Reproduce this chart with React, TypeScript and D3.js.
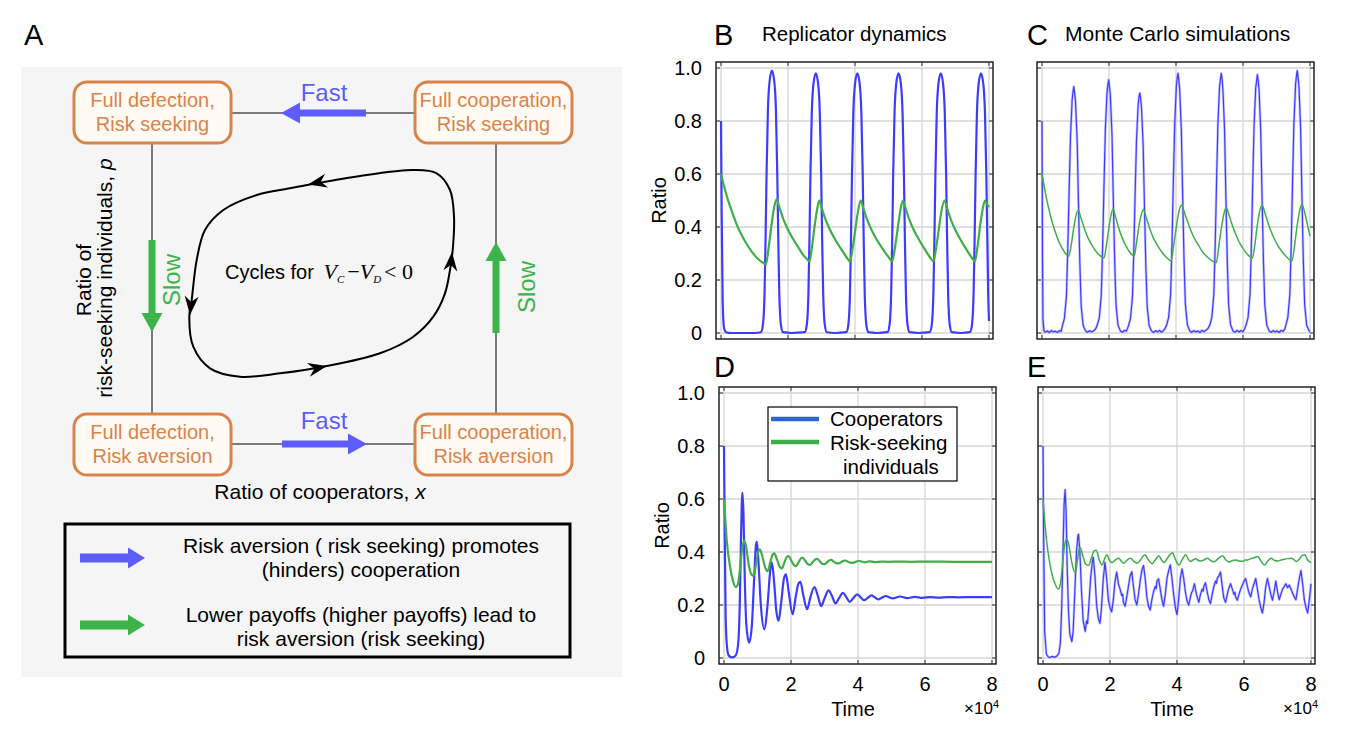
import * as d3 from "d3";

type Pt = [number, number];

// axis ticks (time in units of 10^4)
const timeTicks = [0, 2, 4, 6, 8];
const ratioTicks = [0, 0.2, 0.4, 0.6, 0.8, 1.0];
const ratioTickLabels = ["0", "0.2", "0.4", "0.6", "0.8", "1.0"];
const legendNames = ["Cooperators", "Risk-seeking", "individuals"];

// B: replicator dynamics, cycles
const coopB: Pt[] = [
  [0, 0.8], [0.02, 0.45], [0.05, 0.12], [0.09, 0.02], [0.15, 0.003], [0.3, 0], [1.0, 0],
  [1.19, 0.003], [1.25, 0.03], [1.3, 0.15], [1.33, 0.35], [1.36, 0.6], [1.4, 0.84], [1.45, 0.95], [1.52, 0.99],
  [1.59, 0.95], [1.64, 0.84], [1.68, 0.6], [1.71, 0.35], [1.74, 0.15], [1.79, 0.03], [1.85, 0.003], [2.1, 0],
  [2.5, 0.003], [2.56, 0.03], [2.61, 0.15], [2.64, 0.35], [2.67, 0.6], [2.71, 0.83], [2.76, 0.94], [2.83, 0.98],
  [2.9, 0.94], [2.95, 0.83], [2.99, 0.6], [3.02, 0.35], [3.05, 0.15], [3.1, 0.03], [3.16, 0.003], [3.4, 0],
  [3.74, 0.003], [3.8, 0.03], [3.85, 0.15], [3.88, 0.35], [3.91, 0.6], [3.95, 0.83], [4.0, 0.94], [4.07, 0.98],
  [4.14, 0.94], [4.19, 0.83], [4.23, 0.6], [4.26, 0.35], [4.29, 0.15], [4.34, 0.03], [4.4, 0.003], [4.65, 0],
  [4.97, 0.003], [5.03, 0.03], [5.08, 0.15], [5.11, 0.35], [5.14, 0.6], [5.18, 0.83], [5.23, 0.94], [5.3, 0.98],
  [5.37, 0.94], [5.42, 0.83], [5.46, 0.6], [5.49, 0.35], [5.52, 0.15], [5.57, 0.03], [5.63, 0.003], [5.9, 0],
  [6.23, 0.003], [6.29, 0.03], [6.34, 0.15], [6.37, 0.35], [6.4, 0.6], [6.44, 0.83], [6.49, 0.94], [6.56, 0.98],
  [6.63, 0.94], [6.68, 0.83], [6.72, 0.6], [6.75, 0.35], [6.78, 0.15], [6.83, 0.03], [6.89, 0.003], [7.15, 0],
  [7.43, 0.003], [7.49, 0.03], [7.54, 0.15], [7.57, 0.35], [7.6, 0.6], [7.64, 0.83], [7.69, 0.94], [7.76, 0.98],
  [7.83, 0.94], [7.88, 0.83], [7.92, 0.6], [7.95, 0.35], [7.975, 0.15], [8.0, 0.045],
];
const riskB: Pt[] = [
  [0, 0.6], [0.1, 0.55], [0.2, 0.505], [0.35, 0.45], [0.5, 0.4], [0.7, 0.35], [0.9, 0.31], [1.1, 0.28], [1.25, 0.265], [1.34, 0.258],
  [1.42, 0.32], [1.5, 0.4], [1.58, 0.47], [1.66, 0.505],
  [1.74, 0.475], [1.86, 0.43], [2.0, 0.39], [2.15, 0.355], [2.3, 0.325], [2.45, 0.295], [2.56, 0.28], [2.64, 0.27],
  [2.71, 0.32], [2.78, 0.39], [2.86, 0.46], [2.93, 0.5],
  [3.01, 0.47], [3.13, 0.425], [3.27, 0.385], [3.42, 0.35], [3.57, 0.32], [3.7, 0.295], [3.78, 0.28], [3.85, 0.27],
  [3.93, 0.32], [4.01, 0.39], [4.09, 0.46], [4.17, 0.5],
  [4.25, 0.47], [4.37, 0.425], [4.51, 0.385], [4.66, 0.35], [4.81, 0.32], [4.95, 0.295], [5.04, 0.28], [5.11, 0.27],
  [5.19, 0.32], [5.27, 0.39], [5.35, 0.46], [5.43, 0.5],
  [5.51, 0.47], [5.63, 0.425], [5.77, 0.385], [5.92, 0.35], [6.06, 0.32], [6.19, 0.295], [6.27, 0.28], [6.34, 0.27],
  [6.42, 0.32], [6.5, 0.39], [6.58, 0.46], [6.67, 0.5],
  [6.75, 0.47], [6.87, 0.425], [7.01, 0.385], [7.16, 0.35], [7.3, 0.32], [7.43, 0.295], [7.51, 0.28], [7.58, 0.27],
  [7.65, 0.32], [7.72, 0.39], [7.8, 0.46], [7.88, 0.5], [7.95, 0.485], [8.0, 0.475],
];

// C: Monte Carlo, cycles
const coopC: Pt[] = [
  [0, 0.8], [0.015, 0.3], [0.03, 0.05], [0.06, 0.008], [0.1, 0.003], [0.16, 0.008], [0.22, 0.002], [0.28, 0.009],
  [0.34, 0.004], [0.4, 0.007], [0.46, 0.002], [0.52, 0.009], [0.57, 0.006],
  [0.61, 0.028], [0.67, 0.056], [0.73, 0.14], [0.77, 0.32], [0.81, 0.54], [0.85, 0.74], [0.9, 0.88], [0.93, 0.915], [0.95, 0.93],
  [0.97, 0.91], [1.0, 0.875], [1.05, 0.725], [1.09, 0.48], [1.13, 0.26], [1.17, 0.1], [1.23, 0.028], [1.3, 0.008],
  [1.36, 0.003], [1.42, 0.009], [1.48, 0.004], [1.54, 0.008], [1.6, 0.015],
  [1.65, 0.03], [1.71, 0.057], [1.77, 0.143], [1.81, 0.325], [1.85, 0.554], [1.89, 0.764], [1.94, 0.907], [1.97, 0.94], [1.99, 0.955],
  [2.01, 0.935], [2.04, 0.898], [2.09, 0.745], [2.13, 0.497], [2.17, 0.267], [2.21, 0.105], [2.27, 0.029], [2.34, 0.008],
  [2.4, 0.003], [2.46, 0.01], [2.52, 0.007],
  [2.58, 0.027], [2.64, 0.054], [2.7, 0.136], [2.74, 0.308], [2.78, 0.525], [2.82, 0.724], [2.87, 0.86], [2.9, 0.895], [2.92, 0.905],
  [2.94, 0.89], [2.97, 0.85], [3.02, 0.706], [3.06, 0.47], [3.1, 0.253], [3.14, 0.1], [3.2, 0.027], [3.27, 0.008],
  [3.33, 0.002], [3.39, 0.009], [3.45, 0.004], [3.51, 0.01], [3.57, 0.003], [3.62, 0.009], [3.67, 0.016],
  [3.72, 0.03], [3.78, 0.059], [3.84, 0.147], [3.88, 0.333], [3.92, 0.568], [3.96, 0.784], [4.01, 0.93], [4.04, 0.965], [4.06, 0.98],
  [4.08, 0.96], [4.11, 0.92], [4.16, 0.764], [4.2, 0.51], [4.24, 0.274], [4.28, 0.108], [4.34, 0.03], [4.41, 0.008],
  [4.47, 0.003], [4.53, 0.009], [4.59, 0.004], [4.65, 0.008], [4.71, 0.002], [4.77, 0.01], [4.83, 0.005], [4.89, 0.01], [4.95, 0.016],
  [5.01, 0.03], [5.07, 0.059], [5.13, 0.147], [5.17, 0.333], [5.21, 0.568], [5.25, 0.784], [5.3, 0.93], [5.33, 0.96], [5.35, 0.98],
  [5.37, 0.965], [5.4, 0.92], [5.45, 0.764], [5.49, 0.51], [5.53, 0.274], [5.57, 0.108], [5.63, 0.03], [5.7, 0.008],
  [5.76, 0.003], [5.82, 0.01], [5.88, 0.004], [5.94, 0.009], [6.0, 0.005], [6.05, 0.016],
  [6.09, 0.03], [6.15, 0.058], [6.21, 0.146], [6.25, 0.331], [6.29, 0.565], [6.33, 0.78], [6.38, 0.926], [6.41, 0.955], [6.43, 0.975],
  [6.45, 0.955], [6.48, 0.917], [6.53, 0.76], [6.57, 0.507], [6.61, 0.273], [6.65, 0.107], [6.71, 0.03], [6.78, 0.008],
  [6.84, 0.003], [6.9, 0.009], [6.96, 0.004], [7.02, 0.008], [7.08, 0.002], [7.14, 0.01], [7.2, 0.006], [7.25, 0.016],
  [7.28, 0.03], [7.34, 0.06], [7.4, 0.149], [7.44, 0.337], [7.48, 0.574], [7.52, 0.792], [7.57, 0.94], [7.6, 0.975], [7.62, 0.99],
  [7.64, 0.97], [7.67, 0.93], [7.72, 0.772], [7.76, 0.515], [7.8, 0.277], [7.84, 0.109], [7.9, 0.03], [7.97, 0.008], [8.0, 0.005],
];
const riskC: Pt[] = [
  [0, 0.6], [0.1, 0.53], [0.2, 0.47], [0.3, 0.42], [0.4, 0.38], [0.5, 0.345], [0.6, 0.32], [0.7, 0.3], [0.8, 0.29],
  [0.87, 0.33], [0.94, 0.39], [1.01, 0.44], [1.08, 0.464],
  [1.15, 0.44], [1.25, 0.4], [1.37, 0.36], [1.5, 0.33], [1.63, 0.305], [1.75, 0.29], [1.85, 0.283],
  [1.92, 0.33], [1.99, 0.39], [2.06, 0.445], [2.12, 0.468],
  [2.19, 0.44], [2.28, 0.4], [2.39, 0.36], [2.5, 0.33], [2.62, 0.305], [2.75, 0.29],
  [2.82, 0.34], [2.89, 0.4], [2.96, 0.445], [3.03, 0.466],
  [3.1, 0.44], [3.2, 0.4], [3.32, 0.36], [3.45, 0.33], [3.58, 0.305], [3.72, 0.285], [3.85, 0.272],
  [3.93, 0.33], [4.01, 0.4], [4.09, 0.46], [4.17, 0.483],
  [4.25, 0.455], [4.36, 0.415], [4.5, 0.37], [4.65, 0.335], [4.8, 0.305], [4.95, 0.285], [5.08, 0.272], [5.2, 0.265],
  [5.28, 0.33], [5.36, 0.4], [5.43, 0.45], [5.5, 0.474],
  [5.57, 0.45], [5.67, 0.41], [5.79, 0.37], [5.92, 0.335], [6.05, 0.31], [6.17, 0.292], [6.28, 0.283],
  [6.35, 0.33], [6.42, 0.4], [6.5, 0.46], [6.57, 0.483],
  [6.65, 0.455], [6.76, 0.41], [6.9, 0.365], [7.04, 0.33], [7.18, 0.305], [7.32, 0.285], [7.46, 0.272],
  [7.54, 0.33], [7.61, 0.4], [7.69, 0.46], [7.76, 0.486], [7.84, 0.455], [7.92, 0.41], [8.0, 0.366],
];

// D: replicator dynamics, damped
const coopD: Pt[] = [
  [0, 0.8], [0.02, 0.5], [0.05, 0.15], [0.1, 0.03], [0.15, 0.008], [0.25, 0.002], [0.35, 0.01], [0.42, 0.05],
  [0.47, 0.2], [0.5, 0.4], [0.53, 0.58], [0.55, 0.624], [0.58, 0.55], [0.62, 0.3], [0.67, 0.12], [0.75, 0.058],
  [0.83, 0.12], [0.9, 0.3], [0.95, 0.42], [0.98, 0.439], [1.02, 0.38], [1.1, 0.2], [1.2, 0.108], [1.3, 0.2],
  [1.38, 0.33], [1.43, 0.36], [1.5, 0.28], [1.56, 0.18], [1.63, 0.14], [1.7, 0.2], [1.79, 0.3], [1.85, 0.316],
  [1.92, 0.26], [2.05, 0.165], [2.14, 0.23], [2.22, 0.28], [2.28, 0.287], [2.37, 0.235], [2.48, 0.184], [2.58, 0.23],
  [2.7, 0.268], [2.8, 0.235], [2.9, 0.196], [3.0, 0.225], [3.12, 0.255], [3.22, 0.235], [3.33, 0.206], [3.43, 0.225],
  [3.55, 0.246], [3.65, 0.23], [3.75, 0.212], [3.86, 0.226], [3.97, 0.24], [4.07, 0.23], [4.18, 0.218], [4.29, 0.227],
  [4.4, 0.236], [4.5, 0.229], [4.6, 0.221], [4.72, 0.228], [4.83, 0.234], [4.93, 0.229], [5.03, 0.225], [5.25, 0.232],
  [5.47, 0.226], [5.7, 0.231], [5.92, 0.227], [6.15, 0.23], [6.4, 0.228], [6.7, 0.23], [7.0, 0.229], [7.5, 0.23], [8.0, 0.23],
];
const riskD: Pt[] = [
  [0, 0.6], [0.03, 0.54], [0.06, 0.48], [0.1, 0.42], [0.15, 0.37], [0.2, 0.33], [0.27, 0.29], [0.35, 0.268],
  [0.42, 0.28], [0.48, 0.34], [0.54, 0.41], [0.6, 0.444], [0.66, 0.42], [0.74, 0.35], [0.82, 0.315], [0.88, 0.31],
  [0.95, 0.35], [1.02, 0.4], [1.07, 0.41], [1.14, 0.385], [1.22, 0.345], [1.3, 0.328], [1.38, 0.36], [1.45, 0.39],
  [1.5, 0.395], [1.58, 0.372], [1.66, 0.345], [1.73, 0.338], [1.8, 0.36], [1.88, 0.382], [1.93, 0.385], [2.0, 0.37],
  [2.08, 0.352], [2.15, 0.347], [2.22, 0.36], [2.3, 0.376], [2.35, 0.378], [2.43, 0.366], [2.5, 0.354], [2.57, 0.351],
  [2.65, 0.362], [2.72, 0.372], [2.78, 0.374], [2.86, 0.365], [2.93, 0.356], [3.0, 0.354], [3.08, 0.362], [3.15, 0.369],
  [3.2, 0.37], [3.28, 0.363], [3.35, 0.358], [3.42, 0.357], [3.5, 0.362], [3.57, 0.367], [3.62, 0.368], [3.7, 0.363],
  [3.78, 0.36], [3.85, 0.359], [3.93, 0.363], [4.0, 0.366], [4.05, 0.366], [4.2, 0.361], [4.35, 0.365], [4.5, 0.362],
  [4.7, 0.364], [4.9, 0.363], [5.2, 0.364], [5.6, 0.363], [6.0, 0.364], [7.0, 0.363], [8.0, 0.363],
];

// E: Monte Carlo, damped
const coopE: Pt[] = [
  [0, 0.8], [0.02, 0.45], [0.05, 0.1], [0.1, 0.015], [0.15, 0.005], [0.2, 0.002], [0.28, 0.006], [0.35, 0.003],
  [0.42, 0.008], [0.48, 0.02], [0.52, 0.06], [0.56, 0.2], [0.6, 0.42], [0.63, 0.58], [0.66, 0.635], [0.69, 0.55],
  [0.72, 0.35], [0.76, 0.18], [0.8, 0.09], [0.86, 0.062], [0.9, 0.1], [0.95, 0.25], [1.0, 0.4], [1.04, 0.46],
  [1.06, 0.467], [1.1, 0.4], [1.15, 0.25], [1.2, 0.14], [1.26, 0.1], [1.3, 0.14], [1.33, 0.13], [1.37, 0.2],
  [1.42, 0.3], [1.47, 0.36], [1.5, 0.38], [1.55, 0.31], [1.6, 0.2], [1.65, 0.15], [1.7, 0.131], [1.74, 0.18],
  [1.8, 0.3], [1.85, 0.361], [1.9, 0.3], [1.95, 0.22], [2.0, 0.19], [2.05, 0.174], [2.1, 0.22], [2.15, 0.29],
  [2.2, 0.324], [2.25, 0.28], [2.28, 0.268], [2.3, 0.26], [2.35, 0.235], [2.38, 0.24], [2.4, 0.21], [2.45, 0.195],
  [2.5, 0.23], [2.55, 0.27], [2.6, 0.31], [2.65, 0.326], [2.7, 0.27], [2.75, 0.22], [2.8, 0.2], [2.85, 0.24],
  [2.9, 0.29], [2.95, 0.33], [3.0, 0.349], [3.05, 0.3], [3.1, 0.23], [3.15, 0.195], [3.2, 0.181], [3.25, 0.22],
  [3.3, 0.25], [3.35, 0.27], [3.38, 0.262], [3.4, 0.29], [3.45, 0.299], [3.5, 0.26], [3.55, 0.22], [3.6, 0.195],
  [3.65, 0.24], [3.7, 0.3], [3.75, 0.33], [3.8, 0.351], [3.85, 0.3], [3.9, 0.24], [3.95, 0.19], [4.0, 0.164],
  [4.05, 0.22], [4.1, 0.3], [4.15, 0.336], [4.2, 0.3], [4.25, 0.25], [4.3, 0.215], [4.35, 0.2], [4.4, 0.23],
  [4.43, 0.245], [4.47, 0.255], [4.52, 0.28], [4.58, 0.24], [4.65, 0.21], [4.7, 0.24], [4.75, 0.26], [4.78, 0.252],
  [4.8, 0.27], [4.85, 0.284], [4.9, 0.25], [4.95, 0.22], [5.0, 0.206], [5.05, 0.24], [5.1, 0.27], [5.15, 0.29],
  [5.18, 0.282], [5.2, 0.3], [5.25, 0.31], [5.3, 0.324], [5.35, 0.27], [5.4, 0.225], [5.45, 0.21], [5.5, 0.24],
  [5.55, 0.265], [5.6, 0.28], [5.65, 0.26], [5.7, 0.24], [5.73, 0.248], [5.75, 0.23], [5.8, 0.218], [5.85, 0.24],
  [5.9, 0.26], [5.95, 0.275], [6.0, 0.29], [6.05, 0.3], [6.1, 0.27], [6.15, 0.245], [6.2, 0.231], [6.25, 0.26],
  [6.3, 0.28], [6.35, 0.3], [6.4, 0.26], [6.45, 0.22], [6.5, 0.19], [6.55, 0.17], [6.6, 0.21], [6.65, 0.27],
  [6.7, 0.3], [6.75, 0.27], [6.8, 0.24], [6.85, 0.218], [6.9, 0.25], [6.95, 0.29], [7.0, 0.25], [7.05, 0.22],
  [7.1, 0.24], [7.15, 0.26], [7.2, 0.27], [7.25, 0.28], [7.3, 0.265], [7.35, 0.275], [7.4, 0.26], [7.45, 0.245],
  [7.5, 0.23], [7.55, 0.22], [7.6, 0.26], [7.65, 0.3], [7.7, 0.33], [7.75, 0.28], [7.8, 0.22], [7.85, 0.19],
  [7.9, 0.17], [7.95, 0.22], [8.0, 0.28],
];
const riskE: Pt[] = [
  [0, 0.6], [0.05, 0.52], [0.1, 0.45], [0.15, 0.4], [0.2, 0.36], [0.28, 0.31], [0.36, 0.28], [0.46, 0.26],
  [0.52, 0.28], [0.58, 0.35], [0.64, 0.42], [0.71, 0.45], [0.78, 0.42], [0.86, 0.36], [0.96, 0.321], [1.03, 0.37],
  [1.08, 0.41], [1.11, 0.417], [1.18, 0.39], [1.27, 0.355], [1.36, 0.349], [1.45, 0.38], [1.53, 0.405], [1.59, 0.407],
  [1.68, 0.37], [1.76, 0.351], [1.84, 0.375], [1.91, 0.39], [1.98, 0.37], [2.06, 0.36], [2.16, 0.37], [2.26, 0.376],
  [2.34, 0.365], [2.41, 0.358], [2.5, 0.368], [2.61, 0.376], [2.7, 0.366], [2.81, 0.358], [2.92, 0.372], [3.04, 0.39],
  [3.15, 0.37], [3.26, 0.356], [3.36, 0.372], [3.46, 0.386], [3.54, 0.37], [3.61, 0.36], [3.72, 0.378], [3.86, 0.397],
  [3.96, 0.37], [4.06, 0.351], [4.16, 0.372], [4.26, 0.39], [4.34, 0.372], [4.41, 0.364], [4.48, 0.37], [4.56, 0.375],
  [4.64, 0.368], [4.71, 0.366], [4.8, 0.37], [4.91, 0.376], [5.0, 0.368], [5.11, 0.363], [5.24, 0.376], [5.36, 0.386],
  [5.46, 0.37], [5.56, 0.362], [5.66, 0.368], [5.76, 0.37], [5.86, 0.366], [5.96, 0.365], [6.04, 0.37], [6.11, 0.37],
  [6.2, 0.375], [6.3, 0.378], [6.41, 0.383], [6.51, 0.365], [6.61, 0.351], [6.71, 0.366], [6.81, 0.376], [6.91, 0.368],
  [7.01, 0.366], [7.11, 0.37], [7.21, 0.373], [7.31, 0.375], [7.41, 0.376], [7.5, 0.37], [7.56, 0.364], [7.66, 0.375],
  [7.75, 0.388], [7.81, 0.39], [7.9, 0.37], [8.0, 0.36],
];

// panel A schematic
const stateBoxes = [
  { x: 74, y: 82, lines: ["Full defection,", "Risk seeking"] },
  { x: 415, y: 82, lines: ["Full cooperation,", "Risk seeking"] },
  { x: 74, y: 414, lines: ["Full defection,", "Risk aversion"] },
  { x: 415, y: 414, lines: ["Full cooperation,", "Risk aversion"] },
];
const cyclePath: Pt[] = [
  [316.7, 183.3], [366.7, 175], [413.3, 170], [436.7, 173.3], [450, 190], [454, 216.7], [452.7, 250],
  [450, 270], [445, 293.3], [433.3, 316.7], [413.3, 336.7], [380, 353.3], [323.3, 366.7], [280, 373.3],
  [240, 376.7], [210, 368.3], [193.3, 346.7], [189.3, 316.7], [191.7, 300], [196.7, 260], [205, 230],
  [223.3, 210], [256.7, 195], [290, 188.3],
];
const cycleHeads = [
  { x: 308, y: 184.5, a: 168 },
  { x: 190, y: 315, a: 95 },
  { x: 327, y: 366, a: -12 },
  { x: 452, y: 252, a: -85 },
];
const legendA = [
  { color: "blue", lines: ["Risk aversion ( risk seeking) promotes", "(hinders) cooperation"] },
  { color: "green", lines: ["Lower payoffs (higher payoffs) lead to", "risk aversion (risk seeking)"] },
];

const BLUE = "#3c3cff";
const GREEN = "#3fae49";
const ARROW_BLUE = "#5c5cff";
const ARROW_GREEN = "#3cb44b";
const ORANGE = "#d9834a";
const SANS = "Arial, 'Liberation Sans', Helvetica, sans-serif";
const SERIF = "'Times New Roman', 'Liberation Serif', serif";

const PW = 277;
const PH = 277;

function blockArrow(x1: number, y1: number, x2: number, y2: number, sw: number, hw: number, hl: number) {
  const dx = x2 - x1, dy = y2 - y1, L = Math.hypot(dx, dy);
  const ux = dx / L, uy = dy / L, nx = -uy, ny = ux;
  const bx = x2 - ux * hl, by = y2 - uy * hl;
  const pts = [
    [x1 + (nx * sw) / 2, y1 + (ny * sw) / 2],
    [bx + (nx * sw) / 2, by + (ny * sw) / 2],
    [bx + (nx * hw) / 2, by + (ny * hw) / 2],
    [x2, y2],
    [bx - (nx * hw) / 2, by - (ny * hw) / 2],
    [bx - (nx * sw) / 2, by - (ny * sw) / 2],
    [x1 - (nx * sw) / 2, y1 - (ny * sw) / 2],
  ];
  return "M" + pts.map((p) => p.join(",")).join("L") + "Z";
}

interface ChartProps {
  x0: number;
  y0: number;
  coop: Pt[];
  risk: Pt[];
  mc?: boolean;
  yLabels?: boolean;
  xLabels?: boolean;
  legend?: boolean;
}

const Chart = ({ x0, y0, coop, risk, mc, yLabels, xLabels, legend }: ChartProps) => {
  const x = d3.scaleLinear().domain([0, 8]).range([x0 + 5, x0 + PW - 4]);
  const y = d3.scaleLinear().domain([0, 1]).range([y0 + PH - 6, y0 + 6]);
  const smooth = d3
    .line<Pt>()
    .x((d) => x(d[0]))
    .y((d) => y(d[1]))
    .curve(d3.curveMonotoneX);
  const rough = d3
    .line<Pt>()
    .x((d) => x(d[0]))
    .y((d) => y(d[1]));

  return (
    <g>
      <rect x={x0} y={y0} width={PW} height={PH} fill="#fff" />
      {/* grid */}
      {timeTicks.map((t) => (
        <line key={"gx" + t} x1={x(t)} x2={x(t)} y1={y0} y2={y0 + PH} stroke="#d6d6d6" strokeWidth={1.3} />
      ))}
      {ratioTicks.map((v) => (
        <line key={"gy" + v} x1={x0} x2={x0 + PW} y1={y(v)} y2={y(v)} stroke="#d6d6d6" strokeWidth={1.3} />
      ))}
      {/* series */}
      {mc ? (
        <g fill="none" strokeLinejoin="round">
          <path d={rough(coop)!} stroke="#8f8fff" strokeWidth={2.6} opacity={0.5} />
          <path d={rough(coop)!} stroke={BLUE} strokeWidth={1.2} />
          <path d={smooth(risk)!} stroke={GREEN} strokeWidth={1.5} />
        </g>
      ) : (
        <g fill="none" strokeLinejoin="round">
          <path d={smooth(coop)!} stroke={BLUE} strokeWidth={2.2} />
          <path d={smooth(risk)!} stroke={GREEN} strokeWidth={2.2} />
        </g>
      )}
      {/* frame + frame ticks */}
      <rect x={x0} y={y0} width={PW} height={PH} fill="none" stroke="#000" strokeWidth={1.3} />
      {timeTicks.map((t) => (
        <g key={"tx" + t} stroke="#333" strokeWidth={1}>
          <line x1={x(t)} x2={x(t)} y1={y0 + PH} y2={y0 + PH - 4} />
          <line x1={x(t)} x2={x(t)} y1={y0} y2={y0 + 4} />
        </g>
      ))}
      {ratioTicks.map((v) => (
        <g key={"ty" + v} stroke="#333" strokeWidth={1}>
          <line x1={x0} x2={x0 + 4} y1={y(v)} y2={y(v)} />
          <line x1={x0 + PW} x2={x0 + PW - 4} y1={y(v)} y2={y(v)} />
        </g>
      ))}
      {yLabels && (
        <g fontFamily={SANS} fontSize={20} fill="#000">
          {ratioTicks.map((v, i) => (
            <text key={"ly" + v} x={x0 - 14} y={y(v)} dy="0.36em" textAnchor="end">
              {ratioTickLabels[i]}
            </text>
          ))}
          <text transform={`translate(${x0 - 50},${y0 + PH / 2}) rotate(-90)`} textAnchor="middle" fontSize={20}>
            Ratio
          </text>
        </g>
      )}
      {xLabels && (
        <g fontFamily={SANS} fill="#000">
          {timeTicks.map((t) => (
            <text key={"lx" + t} x={x(t)} y={y0 + PH + 27} textAnchor="middle" fontSize={20}>
              {t}
            </text>
          ))}
          <text x={x0 + 134} y={y0 + PH + 52} textAnchor="middle" fontSize={20}>
            Time
          </text>
          <text x={x0 + PW + 3} y={y0 + PH + 50} textAnchor="end" fontSize={17}>
            ×10<tspan dy={-6} fontSize={11}>4</tspan>
          </text>
        </g>
      )}
      {legend && (
        <g fontFamily={SANS} fontSize={20.5}>
          <rect x={x0 + 49} y={y0 + 20} width={189} height={74} fill="#fff" stroke="#000" strokeWidth={1.2} />
          <line x1={x0 + 52} x2={x0 + 100} y1={y0 + 32} y2={y0 + 32} stroke="#2f63cf" strokeWidth={4.5} />
          <line x1={x0 + 52} x2={x0 + 100} y1={y0 + 55} y2={y0 + 55} stroke={GREEN} strokeWidth={4.5} />
          <text x={x0 + 111} y={y0 + 39}>{legendNames[0]}</text>
          <text x={x0 + 111} y={y0 + 63}>{legendNames[1]}</text>
          <text x={x0 + 124} y={y0 + 87}>{legendNames[2]}</text>
        </g>
      )}
    </g>
  );
};

const PanelA = () => {
  const cycle = d3
    .line<Pt>()
    .x((d) => d[0])
    .y((d) => d[1])
    .curve(d3.curveCatmullRomClosed.alpha(0.5));
  return (
    <g fontFamily={SANS}>
      <rect x={21} y={67} width={601} height={610} fill="#f5f5f5" />
      {/* connecting lines */}
      <g stroke="#000" strokeWidth={1}>
        <line x1={230} x2={415} y1={113} y2={113} />
        <line x1={230} x2={415} y1={444} y2={444} />
        <line x1={152} x2={152} y1={142} y2={414} />
        <line x1={496} x2={496} y1={142} y2={414} />
      </g>
      {stateBoxes.map((b, i) => (
        <g key={i}>
          <rect x={b.x} y={b.y} width={157} height={61} rx={13} fill="#fffaf4" stroke={ORANGE} strokeWidth={3} />
          {b.lines.map((l, j) => (
            <text key={j} x={b.x + 78.5} y={b.y + 25 + j * 24} textAnchor="middle" fontSize={20} fill={ORANGE}>
              {l}
            </text>
          ))}
        </g>
      ))}
      {/* fast / slow arrows */}
      <path d={blockArrow(366, 113, 281, 113, 7, 21, 19)} fill={ARROW_BLUE} />
      <path d={blockArrow(282, 444, 367, 444, 7, 21, 19)} fill={ARROW_BLUE} />
      <path d={blockArrow(152, 240, 152, 332, 7, 21, 19)} fill={ARROW_GREEN} />
      <path d={blockArrow(496, 333, 496, 242, 7, 21, 19)} fill={ARROW_GREEN} />
      <text x={324} y={101} textAnchor="middle" fontSize={24} fill={ARROW_BLUE}>Fast</text>
      <text x={324} y={429} textAnchor="middle" fontSize={24} fill={ARROW_BLUE}>Fast</text>
      <text transform="translate(180,280) rotate(-90)" textAnchor="middle" fontSize={24} fill={ARROW_GREEN}>Slow</text>
      <text transform="translate(535,287) rotate(-90)" textAnchor="middle" fontSize={24} fill={ARROW_GREEN}>Slow</text>
      {/* cycle */}
      <path d={cycle(cyclePath)!} fill="none" stroke="#000" strokeWidth={2} />
      {cycleHeads.map((h, i) => (
        <path key={i} d="M0,0L-19,-7L-13,0L-19,7Z" fill="#000" transform={`translate(${h.x},${h.y}) rotate(${h.a})`} />
      ))}
      <text x={225} y={279} fontSize={20} fill="#000">
        Cycles for{" "}
        <tspan fontFamily={SERIF} fontStyle="italic" fontSize={22} dx={4}>V</tspan>
        <tspan fontFamily={SERIF} fontStyle="italic" fontSize={11} dy={4}>C</tspan>
        <tspan fontFamily={SERIF} fontSize={22} dy={-4} dx={3}>−</tspan>
        <tspan fontFamily={SERIF} fontStyle="italic" fontSize={22}>V</tspan>
        <tspan fontFamily={SERIF} fontStyle="italic" fontSize={11} dy={4}>D</tspan>
        <tspan fontFamily={SERIF} fontSize={22} dy={-4} dx={3}>&lt; 0</tspan>
      </text>
      {/* axis labels */}
      <text transform="translate(91,280) rotate(-90)" textAnchor="middle" fontSize={21} fill="#000">Ratio of</text>
      <text transform="translate(112,278) rotate(-90)" textAnchor="middle" fontSize={21} fill="#000">
        risk-seeking individuals, <tspan fontStyle="italic">p</tspan>
      </text>
      <text x={320} y={499} textAnchor="middle" fontSize={21} fill="#000">
        Ratio of cooperators, <tspan fontStyle="italic">x</tspan>
      </text>
      {/* legend */}
      <rect x={65} y={524} width={505} height={133} fill="none" stroke="#000" strokeWidth={3} />
      {legendA.map((l, i) => (
        <g key={i}>
          <path
            d={blockArrow(80, 558 + i * 67, 145, 558 + i * 67, 9, 21, 17)}
            fill={l.color === "blue" ? ARROW_BLUE : ARROW_GREEN}
          />
          {l.lines.map((s, j) => (
            <text key={j} x={361} y={553 + i * 69 + j * 24} textAnchor="middle" fontSize={21} fill="#000">
              {s}
            </text>
          ))}
        </g>
      ))}
    </g>
  );
};

export default function App() {
  return (
    <svg
      width={1354}
      height={732}
      style={{ position: "absolute", left: 0, top: 0, background: "#fff" }}
      fontFamily={SANS}
    >
      <PanelA />
      <g fontFamily={SANS} fill="#000">
        <text x={24} y={45} fontSize={29}>A</text>
        <text x={714} y={45} fontSize={29}>B</text>
        <text x={762} y={41} fontSize={20.5}>Replicator dynamics</text>
        <text x={1027} y={45} fontSize={29}>C</text>
        <text x={1065} y={41} fontSize={21}>Monte Carlo simulations</text>
        <text x={714} y={377} fontSize={29}>D</text>
        <text x={1027} y={377} fontSize={29}>E</text>
      </g>
      <Chart x0={716} y0={62} coop={coopB} risk={riskB} yLabels />
      <Chart x0={1037} y0={62} coop={coopC} risk={riskC} mc />
      <Chart x0={719} y0={387} coop={coopD} risk={riskD} yLabels xLabels legend />
      <Chart x0={1038} y0={387} coop={coopE} risk={riskE} mc xLabels />
    </svg>
  );
}
